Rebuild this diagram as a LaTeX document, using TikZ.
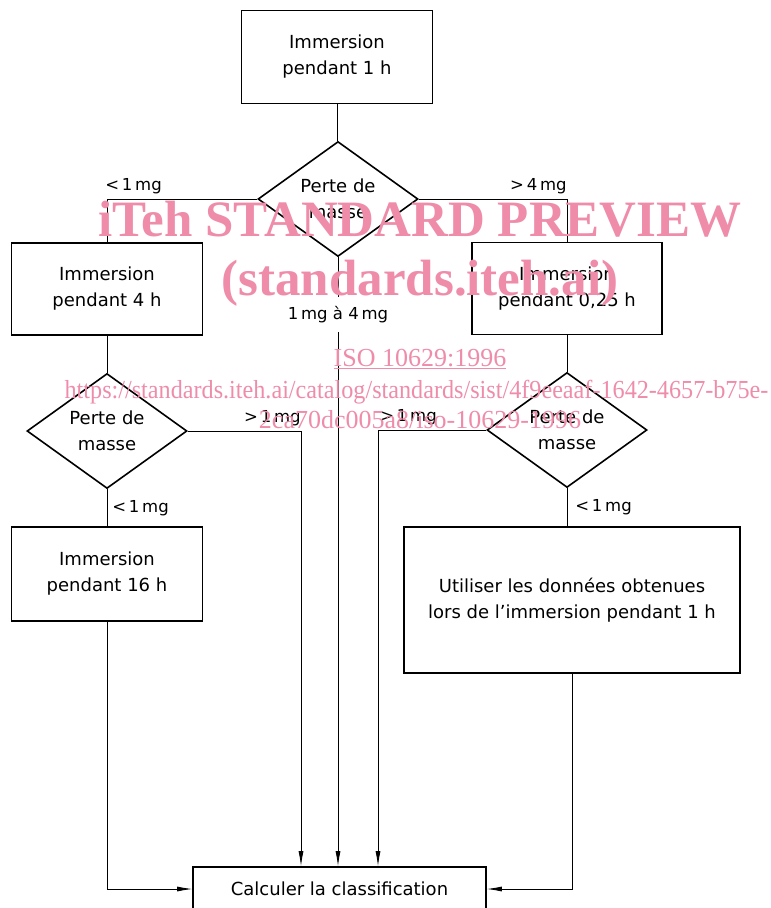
\documentclass[tikz,border=0pt]{standalone}
\usepackage{fontspec}
\setmainfont{DejaVu Sans}
\newfontfamily\markfont{Liberation Serif}
\usepackage{tikz}
\usetikzlibrary{arrows.meta,shapes.geometric}
\definecolor{markpink}{RGB}{238,140,170}
\newcommand{\diagfont}{\fontsize{18}{26}\selectfont}
\newcommand{\tagfont}{\fontsize{16.5}{20}\selectfont}
\tikzset{
  procbox/.style={draw,line width=1.6pt,align=center,inner sep=0pt,
    font=\diagfont},
  testdiamond/.style={diamond,draw,line width=1.6pt,align=center,
    inner sep=0pt,minimum width=160pt,minimum height=107pt,font=\diagfont},
  link/.style={line width=0.8pt},
  flow/.style={link,-{Latex[length=15pt,width=5pt]}},
  smalllabel/.style={font=\tagfont,inner sep=2pt},
  watermark/.style={text=markpink,anchor=base,inner sep=0pt}
}

\begin{document}
\begin{tikzpicture}[x=1pt,y=-1pt]
  \useasboundingbox (0,0) rectangle (771,908);
  % process boxes and tests
  \node[procbox,minimum width=191pt,minimum height=93pt] (dip1)
    at (337,57) {Immersion\\pendant 1 h};
  \node[testdiamond] (loss1) at (338,199) {Perte de\\masse};
  \node[procbox,minimum width=191pt,minimum height=92pt] (dip4)
    at (107,289) {Immersion\\pendant 4 h};
  \node[procbox,minimum width=190pt,minimum height=92pt] (dip025)
    at (567,288.5) {Immersion\\pendant 0,25 h};
  \node[testdiamond] (loss4) at (107,431) {Perte de\\masse};
  \node[testdiamond] (loss025) at (567,430) {Perte de\\masse};
  \node[procbox,minimum width=191pt,minimum height=94pt] (dip16)
    at (107,574) {Immersion\\pendant 16 h};
  \node[procbox,minimum width=336pt,minimum height=146pt] (reuse)
    at (572,600) {Utiliser les données obtenues\\lors de l’immersion pendant 1 h};
  \node[procbox,minimum width=293pt,minimum height=44pt] (classif)
    at (339.5,889) {Calculer la classification};
  % connectors
  \draw[link] (dip1.south) -- (dip1.south |- loss1.north);
  \draw[link] (loss1.west) -| node[smalllabel,above right,xshift=-4pt,yshift=3pt]
    {\textless\,1\,mg} (dip4.north);
  \draw[link] (loss1.east) -| node[smalllabel,above left,xshift=2pt,yshift=3pt]
    {\textgreater\,4\,mg} (dip025.north);
  \draw[flow] (loss1.south) -- node[smalllabel,fill=white,pos=0.094,
    inner ysep=9pt] {1\,mg à 4\,mg} (loss1.south |- classif.north);
  \draw[link] (dip4.south) -- (loss4.north);
  \draw[flow] (loss4.east) -| node[smalllabel,above left,xshift=2pt,yshift=3pt]
    {\textgreater\,1\,mg} ([xshift=-38.5pt]classif.north);
  \draw[link] (dip025.south) -- (loss025.north);
  \draw[flow] (loss025.west) -| node[smalllabel,above right,yshift=3pt]
    {\textgreater\,1\,mg} ([xshift=38.5pt]classif.north);
  \draw[link] (loss4.south) -- node[smalllabel,right,xshift=3pt]
    {\textless\,1\,mg} (dip16.north);
  \draw[link] (loss025.south) -- node[smalllabel,right,xshift=6pt]
    {\textless\,1\,mg} (loss025.south |- reuse.north);
  \draw[flow] (dip16.south) |- (classif.west);
  \draw[flow] (reuse.south) |- (classif.east);
  % watermark
  \node[watermark,font={\markfont\bfseries\fontsize{51}{51}\selectfont}] (wmtitle)
    at (420,236) {iTeh STANDARD PREVIEW};
  \node[watermark,font={\markfont\bfseries\fontsize{51}{51}\selectfont}] (wmsite)
    at (420,295) {(standards.iteh.ai)};
  \node[watermark,font={\markfont\fontsize{26}{26}\selectfont}] (wmiso)
    at (420,366) {\underline{ISO 10629:1996}};
  \node[watermark,font={\markfont\fontsize{26}{26}\selectfont}] (wmurl)
    at (416.5,398) {\scalebox{0.93}[1]{https://standards.iteh.ai/catalog/standards/sist/4f9eeaaf-1642-4657-b75e-}};
  \node[watermark,font={\markfont\fontsize{26}{26}\selectfont}] (wmurltail)
    at (420,428) {2ca70dc005a8/iso-10629-1996};
\end{tikzpicture}
\end{document}
